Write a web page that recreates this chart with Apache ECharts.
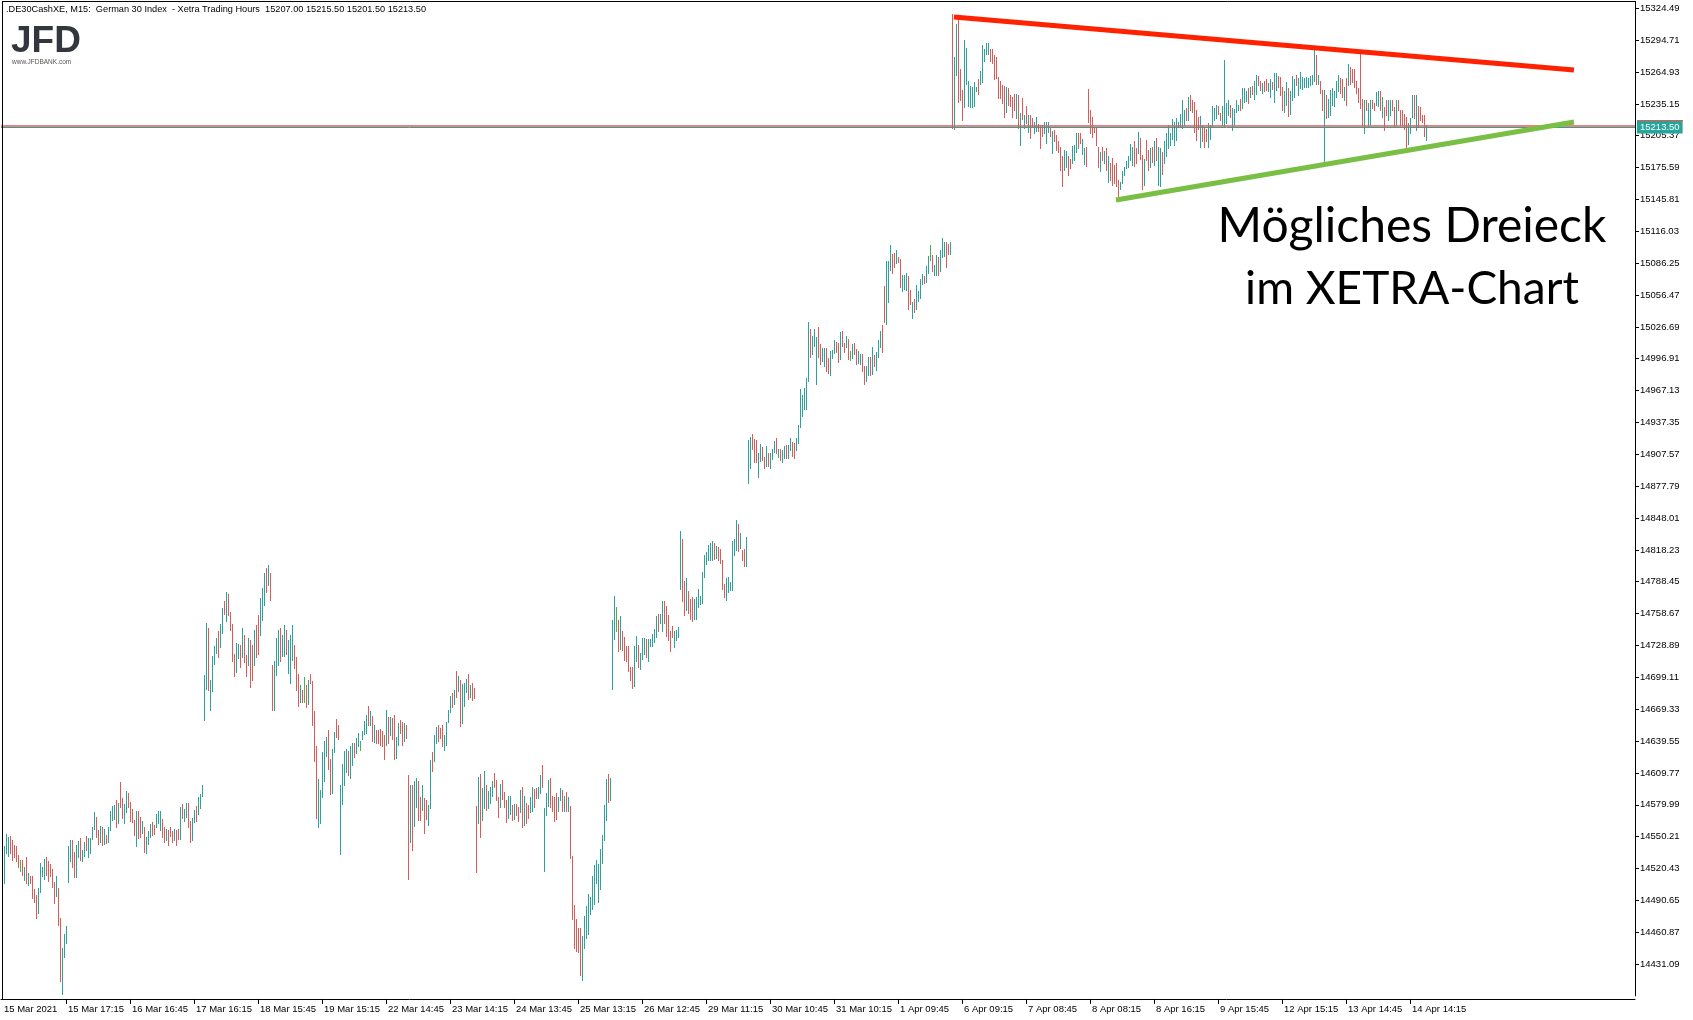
<!DOCTYPE html>
<html>
<head>
<meta charset="utf-8">
<script src="https://cdn.jsdelivr.net/npm/echarts/dist/echarts.min.js"></script>
<style>html,body{margin:0;padding:0;background:#fff;}#chart{width:1693px;height:1020px;}</style>
</head>
<body>
<div id="chart"></div>
<script>
// ---------- data ----------
const headerText = ".DE30CashXE, M15:  German 30 Index  - Xetra Trading Hours  15207.00 15215.50 15201.50 15213.50";
const tickLabels = ["15 Mar 2021","15 Mar 17:15","16 Mar 16:45","17 Mar 16:15","18 Mar 15:45","19 Mar 15:15",
  "22 Mar 14:45","23 Mar 14:15","24 Mar 13:45","25 Mar 13:15","26 Mar 12:45","29 Mar 11:15","30 Mar 10:45",
  "31 Mar 10:15","1 Apr 09:45","6 Apr 09:15","7 Apr 08:45","8 Apr 08:15","8 Apr 16:15","9 Apr 15:45",
  "12 Apr 15:15","13 Apr 14:45","14 Apr 14:15"];
const barsPerTick = 32;
const totalSlots = 817;
const yMin = 14401.31, yMax = 15330.38, yStep = 29.78;
const bidPrice = 15213.50, askPrice = 15214.50;
const resistanceLine = [[476, 15316.4], [786, 15266.8]];
const supportLine = [[557, 15145.3], [786, 15218.2]];

// M15 bar highs (one line per trading day)
const highs = [
 14538,14541,14553,14550,14551,14547,14542,14541,14533,14528,14528,14522,14531,14516,14513,14513,14501,14496,14502,14526,14522,14529,14531,14527,14525,14520,14508,14513,14502,14474,14446,14459,14467,
 14541,14547,14547,14536,14542,14546,14549,14538,14545,14551,14549,14549,14559,14573,14569,14556,14560,14559,14557,14552,14559,14574,14579,14580,14584,14582,14601,14586,14581,14593,14591,14583,14576,14566,
 14574,14574,14569,14565,14559,14550,14555,14562,14564,14561,14571,14574,14574,14567,14559,14557,14556,14559,14555,14557,14556,14557,14578,14581,14576,14582,14582,14565,14568,14575,14579,14587,14590,14598,
 14701,14750,14745,14697,14719,14728,14736,14742,14749,14764,14770,14779,14777,14760,14749,14721,14731,14730,14729,14745,14739,14720,14736,14734,14729,14743,14748,14757,14773,14783,14797,14801,14804,14797,
 14711,14714,14736,14743,14745,14739,14748,14743,14734,14739,14748,14729,14718,14702,14692,14687,14699,14692,14697,14702,14696,14668,14635,14604,14594,14629,14640,14643,14650,14623,14632,14648,14660,14655,
 14598,14618,14630,14632,14630,14635,14638,14638,14642,14647,14640,14649,14658,14664,14672,14668,14663,14655,14650,14650,14651,14649,14645,14669,14662,14662,14661,14664,14643,14656,14659,14657,14656,14655,
 14608,14598,14598,14602,14605,14602,14587,14598,14586,14584,14580,14622,14629,14645,14653,14655,14652,14655,14645,14657,14669,14682,14684,14687,14705,14700,14697,14693,14694,14698,14702,14692,14694,14689,
 14579,14606,14609,14596,14612,14598,14593,14597,14602,14610,14603,14587,14599,14603,14592,14584,14588,14588,14580,14581,14581,14578,14594,14597,14588,14582,14580,14587,14597,14595,14596,14597,14608,14617,
 14577,14591,14603,14605,14588,14587,14591,14587,14596,14594,14588,14592,14587,14579,14532,14486,14473,14465,14465,14457,14476,14485,14497,14494,14513,14524,14528,14525,14539,14552,14580,14604,14609,14605,
 14753,14775,14765,14753,14756,14742,14737,14728,14728,14709,14709,14728,14738,14729,14722,14736,14736,14735,14735,14735,14740,14744,14756,14758,14758,14770,14770,14766,14757,14742,14747,14742,14743,14746,
 14836,14828,14789,14792,14780,14772,14774,14772,14774,14782,14775,14798,14813,14816,14823,14825,14827,14825,14822,14821,14819,14809,14786,14792,14793,14788,14827,14828,14846,14842,14834,14818,14819,14830,
 14921,14924,14927,14922,14921,14909,14917,14914,14905,14915,14909,14909,14913,14920,14923,14913,14913,14912,14915,14916,14916,14923,14919,14918,14923,14935,14969,14963,14970,14979,15031,15025,15018,15025,
 15017,15027,15011,15007,15007,15007,14998,15004,15005,15014,15013,15012,15022,15023,15012,15018,15015,15004,15011,15012,15006,15004,15001,15001,14990,14990,14999,14999,15008,15000,15003,15014,15023,15028,
 15065,15088,15088,15103,15095,15096,15099,15092,15090,15075,15075,15077,15074,15061,15050,15053,15066,15060,15071,15076,15074,15084,15093,15103,15094,15085,15094,15092,15099,15110,15106,15106,15104,15106,
 15319,15279,15310,15318,15268,15248,15295,15287,15257,15252,15251,15256,15251,15258,15266,15290,15286,15292,15292,15286,15286,15281,15279,15260,15257,15253,15252,15251,15250,15243,15242,15244,15244,15243,
 15227,15241,15225,15233,15225,15225,15222,15218,15223,15216,15215,15215,15218,15218,15218,15214,15210,15211,15206,15200,15195,15186,15192,15191,15186,15184,15196,15197,15208,15208,15208,15202,15194,15195,
 15249,15229,15223,15214,15214,15195,15190,15195,15191,15194,15186,15180,15185,15178,15180,15164,15162,15172,15176,15182,15186,15198,15195,15200,15194,15209,15203,15187,15184,15201,15192,15194,15195,15200,
 15203,15195,15194,15190,15200,15208,15215,15208,15221,15218,15222,15218,15226,15239,15229,15231,15242,15243,15239,15237,15229,15223,15224,15215,15214,15212,15217,15215,15233,15231,15234,15233,15227,15233,
 15276,15236,15239,15234,15231,15230,15239,15234,15240,15250,15250,15247,15250,15251,15252,15257,15262,15261,15257,15255,15257,15258,15255,15258,15256,15264,15264,15261,15260,15251,15247,15256,15250,15247,
 15261,15258,15262,15259,15265,15260,15259,15260,15259,15261,15262,15286,15281,15262,15257,15248,15248,15243,15240,15248,15250,15247,15257,15262,15259,15258,15251,15259,15272,15270,15268,15268,15257,15250,
 15282,15240,15239,15239,15236,15239,15239,15236,15246,15247,15247,15242,15232,15239,15239,15239,15239,15232,15239,15239,15229,15229,15226,15223,15217,15222,15243,15243,15243,15233,15232,15225,15225,15215.5
];
// M15 bar lows
const lows = [
 14513,14507,14535,14532,14535,14528,14531,14527,14522,14518,14514,14510,14507,14505,14507,14493,14489,14474,14479,14498,14513,14511,14514,14509,14513,14503,14488,14495,14468,14415,14403,14438,14451,
 14508,14527,14522,14512,14512,14531,14528,14527,14532,14538,14531,14535,14548,14557,14550,14543,14545,14542,14543,14544,14545,14556,14566,14567,14559,14563,14578,14568,14563,14573,14578,14565,14564,14552,
 14541,14549,14550,14554,14536,14535,14543,14550,14552,14553,14559,14563,14556,14550,14545,14547,14542,14551,14545,14547,14542,14548,14548,14568,14565,14569,14559,14545,14547,14564,14565,14571,14577,14588,
 14659,14688,14687,14669,14686,14712,14722,14718,14727,14741,14758,14752,14757,14743,14714,14700,14704,14717,14709,14718,14713,14700,14711,14690,14697,14711,14718,14721,14739,14753,14767,14779,14785,14771,
 14669,14669,14701,14711,14714,14719,14719,14721,14703,14694,14715,14708,14687,14672,14676,14676,14676,14671,14674,14694,14655,14621,14568,14559,14563,14587,14602,14626,14613,14590,14591,14629,14643,14641,
 14534,14581,14598,14611,14608,14605,14617,14625,14628,14635,14631,14641,14646,14647,14655,14655,14640,14639,14638,14638,14636,14635,14623,14636,14638,14645,14641,14623,14624,14636,14647,14636,14640,14642,
 14511,14545,14538,14560,14578,14566,14566,14575,14554,14567,14561,14577,14612,14621,14638,14640,14642,14635,14631,14636,14657,14667,14671,14674,14681,14686,14654,14656,14672,14685,14679,14681,14678,14680,
 14517,14563,14550,14566,14577,14575,14577,14582,14588,14597,14584,14569,14578,14585,14578,14564,14568,14571,14566,14567,14570,14565,14573,14559,14561,14563,14568,14573,14574,14578,14586,14586,14591,14597,
 14518,14570,14579,14578,14574,14565,14567,14574,14584,14574,14574,14574,14574,14530,14473,14446,14443,14442,14421,14416,14446,14455,14459,14478,14483,14487,14507,14489,14501,14526,14547,14566,14583,14584,
 14688,14735,14742,14724,14726,14725,14715,14714,14705,14697,14689,14691,14714,14709,14707,14716,14721,14718,14714,14728,14728,14732,14737,14742,14750,14742,14750,14738,14734,14724,14737,14727,14734,14737,
 14782,14770,14757,14762,14759,14754,14752,14754,14754,14765,14768,14769,14793,14805,14809,14809,14809,14810,14811,14809,14806,14782,14774,14771,14779,14781,14781,14813,14818,14817,14820,14809,14803,14803,
 14881,14895,14913,14900,14900,14886,14901,14902,14895,14897,14897,14895,14903,14910,14909,14905,14902,14900,14904,14904,14904,14912,14906,14904,14912,14918,14933,14943,14950,14950,14976,14999,15001,15009,
 14973,14999,14992,14995,14990,14985,14984,14982,14998,15002,15003,14994,14997,15009,15003,15008,14997,14996,14998,15001,14992,14993,14992,14985,14973,14976,14982,14982,14983,14990,14986,14999,15008,15003,
 15031,15029,15050,15080,15077,15083,15086,15087,15064,15060,15062,15061,15043,15048,15035,15041,15043,15051,15054,15067,15068,15069,15077,15089,15079,15075,15075,15075,15079,15092,15093,15083,15095,15095,
 15213,15212,15262,15237,15239,15220,15232,15254,15233,15232,15232,15233,15247,15244,15254,15256,15275,15282,15282,15275,15273,15258,15259,15241,15241,15236,15223,15228,15234,15233,15223,15229,15222,15213,
 15197,15221,15213,15217,15209,15203,15214,15208,15210,15210,15194,15205,15208,15199,15209,15205,15189,15200,15192,15190,15173,15158,15173,15176,15169,15175,15180,15183,15190,15194,15199,15188,15179,15177,
 15218,15208,15204,15209,15197,15176,15172,15183,15180,15173,15162,15164,15159,15161,15158,15148,15156,15161,15169,15175,15176,15183,15178,15177,15180,15189,15184,15156,15159,15183,15173,15176,15181,15178,
 15183,15159,15158,15170,15180,15186,15194,15197,15202,15197,15201,15214,15214,15213,15215,15220,15220,15229,15228,15209,15201,15212,15195,15200,15195,15200,15195,15202,15214,15220,15222,15226,15220,15215,
 15214,15217,15225,15223,15211,15215,15228,15229,15229,15231,15237,15238,15236,15242,15244,15240,15244,15253,15248,15245,15247,15248,15247,15242,15249,15237,15248,15251,15243,15229,15228,15234,15224,15226,
 15239,15242,15253,15243,15250,15249,15251,15251,15251,15253,15254,15257,15254,15254,15245,15229,15181,15222,15223,15225,15234,15233,15242,15247,15245,15242,15239,15234,15253,15254,15256,15251,15245,15237,
 15231,15215,15208,15229,15214,15215,15231,15229,15234,15233,15229,15223,15211,15225,15220,15225,15229,15214,15215,15229,15215,15215,15212,15194,15198,15208,15223,15222,15211,15214,15220,15218,15205,15201.5
];
// bar direction per bar: u = up (close > open), d = down, n = unchanged
const barDirections = [
 "uuuudddddndudu" + "dddduuuudddddudduuu",
 "uudduuduud" + "uuuuddudud" + "uuuududduu" + "dddd",
 "udduduuudd" + "uuuddudddu" + "dduduudduu" + "duuu",
 "uuduuuuduu" + "dudddduudu" + "dduddudduu" + "udud",
 "duuuduuduu" + "udddudndud" + "ddduuuuudd" + "uudd",
 "uuuuduuduu" + "nuuudududd" + "dddududduu" + "ddud",
 "duduuddudd" + "uuduuddduu" + "uudududuuu" + "dudd",
 "duduuduuud" + "dduddduudu" + "ddududduud" + "duud",
 "uuudddduud" + "ududdddddu" + "uuuuuuuuuu" + "uudu",
 "uunduddddd" + "duuduuuduu" + "uuuduudddd" + "duuu",
 "udduddduuu" + "uuuuuuudud" + "ddduuuuuud" + "uddu",
 "uuddduuddu" + "duuududuud" + "uudduuuuuu" + "uduu",
 "udduudduuu" + "dduddudnud" + "duudduudud" + "uuud",
 "duuudduddu" + "uudduduuuu" + "duunduuduu" + "uddu",
 "duuddduuuu" + "uuuduuuuud" + "dddddddudd" + "ddud",
 "udududduud" + "dduuududdd" + "dduudduuud" + "duud",
 "ddddddudud" + "uddddduuuu" + "uuudduddud" + "dudu",
 "duuduuuuuu" + "uuuuududdd" + "dduddduuuu" + "uddu",
 "uuuduuuudu" + "uududuuddu" + "dduuduuddd" + "uudu",
 "uuduuuuuuu" + "uududduduu" + "uuuuddudud" + "dddd",
 "dduduudduu" + "dudduuddud" + "dddduuudud" + "dddu"
].join("");

// ---------- build ----------
const dirCode = { u: 1, d: -1, n: 0 };
const dirColor = { "1": "#26a69a", "-1": "#ef5350", "0": "#4caf50" };
const nBars = Math.min(highs.length, lows.length, barDirections.length);
const barData = [];
for (let i = 0; i < nBars; i++) barData.push([i, highs[i], lows[i], dirCode[barDirections[i]]]);
const slots = Array.from({ length: totalSlots }, (_, i) => String(i));
const isTick = (i) => i % barsPerTick === 0 && (i / barsPerTick) < tickLabels.length;
const FONT = "'Liberation Sans', Arial, sans-serif";

const chart = echarts.init(document.getElementById('chart'), null, { renderer: 'canvas' });
chart.setOption({
  animation: false,
  backgroundColor: '#ffffff',
  grid: { left: 1, right: 58, top: 2, bottom: 24.1, containLabel: false, outerBoundsMode: 'none' },
  xAxis: {
    type: 'category', data: slots, boundaryGap: true, offset: 3,
    axisLine: { show: true, lineStyle: { color: '#000', width: 1 } },
    axisTick: { show: true, alignWithLabel: true, length: 5, interval: (i) => i > 0 && isTick(i), lineStyle: { color: '#000' } },
    axisLabel: {
      interval: (i) => isTick(i), formatter: (v) => tickLabels[Number(v) / barsPerTick] || '',
      align: 'left', margin: 5, padding: [0, 0, 0, 2], fontSize: 9.5, fontFamily: FONT, color: '#000'
    },
    splitLine: { show: false }
  },
  yAxis: {
    type: 'value', position: 'right', min: yMin, max: yMax, interval: yStep,
    axisLine: { show: true, lineStyle: { color: '#000', width: 1 } },
    axisTick: { show: true, length: 4, lineStyle: { color: '#000' } },
    axisLabel: { showMinLabel: false, showMaxLabel: false, formatter: (v) => v.toFixed(2), margin: 5, fontSize: 9.5, fontFamily: FONT, color: '#000' },
    splitLine: { show: false }
  },
  series: [{
    type: 'custom',
    data: barData,
    encode: { x: 0, y: [1, 2] },
    renderItem: (params, api) => {
      const x = api.value(0);
      const top = api.coord([x, api.value(1)]);
      const bot = api.coord([x, api.value(2)]);
      const y0 = Math.round(top[1]);
      const y1 = Math.round(bot[1]);
      return {
        type: 'rect',
        shape: { x: Math.round(top[0]), y: y0, width: 1, height: Math.max(1, y1 - y0 + 1) },
        style: { fill: dirColor[String(api.value(3))] }
      };
    },
    markLine: {
      silent: true, symbol: ['none', 'none'], animation: false,
      data: [
        { yAxis: bidPrice, lineStyle: { color: '#26a69a', width: 1, type: 'solid' },
          label: { show: true, position: 'end', distance: 2, formatter: bidPrice.toFixed(2), backgroundColor: '#26a69a', color: '#fff', padding: [2, 3, 1, 3], fontSize: 9.5, fontFamily: FONT } },
        { yAxis: askPrice, lineStyle: { color: '#ef5350', width: 1.6, type: 'solid' }, label: { show: false } },
        [{ coord: resistanceLine[0], lineStyle: { color: '#ff2200', width: 5, type: 'solid', cap: 'butt' }, label: { show: false } }, { coord: resistanceLine[1] }],
        [{ coord: supportLine[0], lineStyle: { color: '#7abf45', width: 5, type: 'solid', cap: 'butt' }, label: { show: false } }, { coord: supportLine[1] }]
      ]
    }
  }],
  graphic: [
    { type: 'line', z: 100, shape: { x1: 2.5, y1: 1, x2: 2.5, y2: 999 }, style: { stroke: '#000', lineWidth: 1 } },
    { type: 'line', z: 100, shape: { x1: 2, y1: 1.5, x2: 1636, y2: 1.5 }, style: { stroke: '#000', lineWidth: 1 } },
    { type: 'line', z: 100, shape: { x1: 1637, y1: 120.5, x2: 1683, y2: 120.5 }, style: { stroke: '#ef5350', lineWidth: 1 } },
    { type: 'text', z: 100, x: 6, y: 9, style: { text: headerText, fontSize: 9.2, fontFamily: FONT, fill: '#000', align: 'left', verticalAlign: 'middle' } },
    { type: 'text', z: 100, x: 11, y: 42, style: { text: 'JFD', fontSize: 37, fontWeight: 'bold', fontFamily: FONT, fill: '#33363d', align: 'left', verticalAlign: 'middle' } },
    { type: 'text', z: 100, x: 12, y: 62, style: { text: 'www.JFDBANK.com', fontSize: 6.5, fontFamily: FONT, fill: '#555', align: 'left', verticalAlign: 'middle' } },
    { type: 'text', z: 100, x: 1412, y: 227, style: { text: 'Mögliches Dreieck', fontSize: 48, fontFamily: 'Lato, sans-serif', fill: '#000', align: 'center', verticalAlign: 'middle' } },
    { type: 'text', z: 100, x: 1412, y: 289, style: { text: 'im XETRA-Chart', fontSize: 46, fontFamily: 'Lato, sans-serif', fill: '#000', align: 'center', verticalAlign: 'middle' } }
  ]
});
</script>
</body>
</html>
